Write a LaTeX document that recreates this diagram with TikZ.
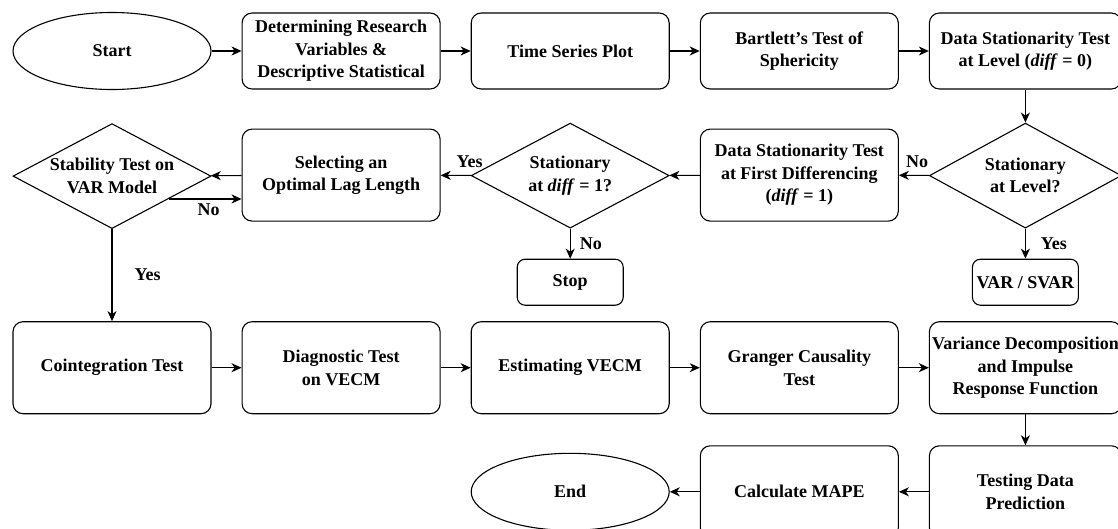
\documentclass[tikz,border=0pt]{standalone}
\usepackage{fontspec}
\setmainfont{Liberation Serif}
\usepackage{tikz}
\usetikzlibrary{shapes.geometric, arrows.meta, positioning}

\begin{document}
\begin{tikzpicture}[x=1pt, y=1pt, line width=1.1pt,
  terminal/.style={ellipse, draw, minimum width=198pt, minimum height=77pt, inner sep=0pt, font=\fontsize{18}{22.5}\selectfont\bfseries},
  process/.style={rectangle, draw, rounded corners=10pt, minimum width=198pt, minimum height=92pt, inner xsep=2pt, align=center, font=\fontsize{18}{22.5}\selectfont\bfseries},
  decision/.style={diamond, draw, shape aspect=1.9, minimum width=198pt, minimum height=105pt, inner sep=-12pt, align=center, font=\fontsize{18}{22.5}\selectfont\bfseries},
  smallbox/.style={rectangle, draw, rounded corners=8pt, minimum width=106pt, minimum height=46pt, inner xsep=2pt, font=\fontsize{18}{22.5}\selectfont\bfseries},
  lbl/.style={inner sep=2pt, font=\fontsize{18}{22.5}\selectfont\bfseries},
  arrow/.style={-{Stealth[length=10pt, width=9pt, inset=3pt]}}]
  \clip (0,0) rectangle (1118,-528);
  % Row 1
  \node[terminal] (start) at (112,-51) {Start};
  \node[process, minimum height=76pt, right=30pt of start] (detvar) {Determining Research\\Variables \&\\Descriptive Statistical};
  \node[process, minimum height=76pt, right=30pt of detvar] (tsplot) {Time Series Plot};
  \node[process, minimum height=76pt, right=30pt of tsplot] (bartlett) {Bartlett's Test of\\Sphericity};
  \node[process, minimum height=76pt, minimum width=192pt, right=30pt of bartlett] (statlvl) {Data Stationarity Test\\at Level (\textit{diff} = 0)};
  % Row 2
  \node[decision, below=33pt of start] (stab) {Stability Test on\\VAR Model};
  \node[process, below=39pt of detvar] (lag) {Selecting an\\Optimal Lag Length};
  \node[decision, below=33pt of tsplot] (diffq) {Stationary\\at \textit{diff} = 1?};
  \node[process, below=39pt of bartlett] (firstdiff) {Data Stationarity Test\\at First Differencing\\(\textit{diff} = 1)};
  \node[decision, minimum width=192pt, below=33pt of statlvl] (levelq) {Stationary\\at Level?};
  \node[smallbox, below=30pt of diffq] (stop) {Stop};
  \node[smallbox, below=30pt of levelq] (varsvar) {VAR / SVAR};
  % Row 3
  \node[process, below=92pt of stab] (coint) {Cointegration Test};
  \node[process, right=30pt of coint] (diag) {Diagnostic Test\\on VECM};
  \node[process, right=30pt of diag] (estvecm) {Estimating VECM};
  \node[process, right=30pt of estvecm] (granger) {Granger Causality\\Test};
  \node[process, minimum width=192pt, right=30pt of granger] (vdimp) {Variance Decomposition\\and Impulse\\Response Function};
  % Row 4
  \node[process, minimum width=192pt, below=31pt of vdimp] (testpred) {Testing Data\\Prediction};
  \node[process, left=30pt of testpred] (mape) {Calculate MAPE};
  \node[terminal, left=30pt of mape] (end) {End};
  % Arrows
  \draw[arrow] (start) -- (detvar);
  \draw[arrow] (detvar) -- (tsplot);
  \draw[arrow] (tsplot) -- (bartlett);
  \draw[arrow] (bartlett) -- (statlvl);
  \draw[arrow] (statlvl) -- (levelq);
  \draw[arrow] (levelq) -- node[lbl, pos=0.4, above=5pt]{No} (firstdiff);
  \draw[arrow] (levelq) -- node[lbl, right=13pt]{Yes} (varsvar);
  \draw[arrow] (firstdiff) -- (diffq);
  \draw[arrow] (diffq) -- node[lbl, pos=0.05, above=5pt]{Yes} (lag);
  \draw[arrow] (diffq) -- node[lbl, right=7pt]{No} (stop);
  \draw[arrow] (lag) -- (stab);
  \draw[arrow] (stab.-22) -- node[lbl, pos=0.55, below=2pt]{No} (stab.-22 -| lag.west);
  \draw[arrow] (stab) -- node[lbl, right=20pt]{Yes} (coint);
  \draw[arrow] (coint) -- (diag);
  \draw[arrow] (diag) -- (estvecm);
  \draw[arrow] (estvecm) -- (granger);
  \draw[arrow] (granger) -- (vdimp);
  \draw[arrow] (vdimp) -- (testpred);
  \draw[arrow] (testpred) -- (mape);
  \draw[arrow] (mape) -- (end);
\end{tikzpicture}
\end{document}
